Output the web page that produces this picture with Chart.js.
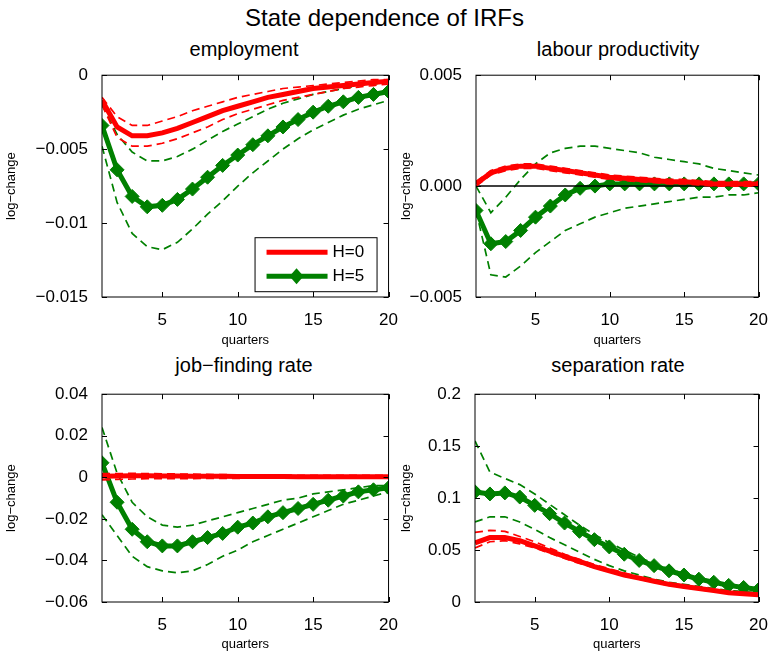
<!DOCTYPE html>
<html>
<head>
<meta charset="utf-8">
<script src="https://cdn.jsdelivr.net/npm/chart.js@4.4.0/dist/chart.umd.min.js"></script>
<style>
  body { margin: 0; background: #fff; width: 769px; height: 663px; position: relative; overflow: hidden;
         font-family: "Liberation Sans", Arial, sans-serif; }
  .ttl { position: absolute; text-align: center; color: #000; }
  canvas { position: absolute; }
</style>
</head>
<body>
<div class="ttl" style="left:0;width:769px;top:4px;font-size:24px;">State dependence of IRFs</div>
<div class="ttl" style="left:102px;width:284px;top:38px;font-size:20px;">employment</div>
<div class="ttl" style="left:476px;width:284px;top:38px;font-size:20px;">labour productivity</div>
<div class="ttl" style="left:102px;width:284px;top:354px;font-size:20px;">job−finding rate</div>
<div class="ttl" style="left:476px;width:284px;top:354px;font-size:20px;">separation rate</div>
<canvas id="empChart" style="left:0;top:59px;width:403px;height:293px;"></canvas>
<canvas id="prodChart" style="left:395px;top:59px;width:378px;height:293px;"></canvas>
<canvas id="jfChart" style="left:0;top:378px;width:403px;height:278px;"></canvas>
<canvas id="sepChart" style="left:395px;top:378px;width:378px;height:278px;"></canvas>
<script>
const quarters = [1,2,3,4,5,6,7,8,9,10,11,12,13,14,15,16,17,18,19,20];

const empH0 = [-0.0017,-0.0035,-0.0041,-0.0041,-0.0039,-0.0036,-0.0032,-0.0028,-0.0024,-0.0021,-0.0018,-0.0015,-0.0013,-0.0011,-0.0009,-0.0008,-0.0007,-0.0006,-0.0005,-0.0004];
const empH0Hi = [-0.0015,-0.0028,-0.0034,-0.0034,-0.0031,-0.0028,-0.0024,-0.0021,-0.0018,-0.0015,-0.0013,-0.0011,-0.0009,-0.0008,-0.0007,-0.0006,-0.0005,-0.0004,-0.0003,-0.0003];
const empH0Lo = [-0.0020,-0.0042,-0.0048,-0.0048,-0.0046,-0.0043,-0.0039,-0.0035,-0.0030,-0.0026,-0.0023,-0.0020,-0.0017,-0.0015,-0.0013,-0.0011,-0.0009,-0.0008,-0.0007,-0.0006];
const empH5 = [-0.0034,-0.0064,-0.0082,-0.0089,-0.0088,-0.0084,-0.0077,-0.0069,-0.0061,-0.0054,-0.0047,-0.0041,-0.0035,-0.0030,-0.0025,-0.0021,-0.0018,-0.0015,-0.0013,-0.0011];
const empH5Hi = [-0.0020,-0.0040,-0.0052,-0.0058,-0.0058,-0.0055,-0.0050,-0.0044,-0.0038,-0.0033,-0.0028,-0.0023,-0.0019,-0.0016,-0.0013,-0.0011,-0.0009,-0.0007,-0.0006,-0.0005];
const empH5Lo = [-0.0048,-0.0086,-0.0107,-0.0116,-0.0118,-0.0113,-0.0104,-0.0094,-0.0085,-0.0075,-0.0066,-0.0058,-0.0050,-0.0043,-0.0037,-0.0032,-0.0027,-0.0023,-0.0020,-0.0017];
const empTicks = [0,-0.005,-0.01,-0.015];

const prodH0 = [0.0001,0.0006,0.0008,0.0009,0.0009,0.0008,0.0007,0.0006,0.0005,0.0004,0.00035,0.0003,0.00025,0.0002,0.0002,0.00015,0.0001,0.0001,0.0001,0.0001];
const prodH0Hi = [0.0002,0.0007,0.0009,0.0010,0.0010,0.0009,0.0008,0.0007,0.0006,0.0005,0.00045,0.0004,0.00035,0.0003,0.0003,0.00025,0.0002,0.0002,0.0002,0.0002];
const prodH0Lo = [0.0000,0.0005,0.0007,0.0008,0.0008,0.0007,0.0006,0.0005,0.0004,0.0003,0.00025,0.0002,0.00015,0.0001,0.0001,0.00005,0.0000,0.0000,0.0000,0.0000];
const prodH5 = [-0.0011,-0.0026,-0.0025,-0.0020,-0.0014,-0.0009,-0.0004,-0.0001,0.0000,0.0001,0.0001,0.0001,0.0001,0.0001,0.0001,0.0001,0.0001,0.0001,0.0001,0.0001];
const prodH5Hi = [0.0000,-0.0012,-0.0005,0.0003,0.0010,0.0015,0.0017,0.0018,0.0018,0.0017,0.0016,0.0015,0.0013,0.0012,0.0011,0.0010,0.0008,0.0007,0.0006,0.0005];
const prodH5Lo = [-0.0011,-0.0040,-0.0041,-0.0036,-0.0030,-0.0025,-0.0020,-0.0017,-0.0014,-0.0012,-0.0010,-0.0009,-0.0008,-0.0007,-0.0006,-0.0005,-0.0005,-0.0004,-0.0004,-0.0003];
const prodTicks = [0.005,0,-0.005];

const jfH0 = [0.0005,0.0006,0.0007,0.0007,0.0006,0.0006,0.0005,0.0005,0.0005,0.0004,0.0004,0.0004,0.0004,0.0003,0.0003,0.0003,0.0003,0.0003,0.0003,0.0003];
const jfH0Hi = [0.0018,0.0018,0.0019,0.0018,0.0017,0.0016,0.0015,0.0014,0.0013,0.0012,0.0012,0.0011,0.0011,0.0010,0.0010,0.0010,0.0010,0.0010,0.0010,0.0010];
const jfH0Lo = [-0.0012,-0.0010,-0.0008,-0.0007,-0.0007,-0.0006,-0.0006,-0.0005,-0.0005,-0.0005,-0.0004,-0.0004,-0.0004,-0.0004,-0.0004,-0.0004,-0.0004,-0.0004,-0.0004,-0.0004];
const jfH5 = [0.007,-0.012,-0.025,-0.031,-0.033,-0.033,-0.031,-0.029,-0.027,-0.024,-0.022,-0.019,-0.017,-0.015,-0.013,-0.011,-0.009,-0.007,-0.006,-0.005];
const jfH5Hi = [0.024,0.002,-0.012,-0.019,-0.023,-0.024,-0.023,-0.021,-0.019,-0.017,-0.015,-0.013,-0.011,-0.010,-0.008,-0.007,-0.006,-0.005,-0.004,-0.004];
const jfH5Lo = [-0.018,-0.028,-0.038,-0.043,-0.045,-0.046,-0.045,-0.042,-0.038,-0.035,-0.031,-0.028,-0.025,-0.022,-0.019,-0.016,-0.013,-0.011,-0.009,-0.007];
const jfTicks = [0.04,0.02,0,-0.02,-0.04,-0.06];

const sepH0 = [0.057,0.062,0.062,0.059,0.054,0.049,0.044,0.039,0.034,0.030,0.026,0.023,0.020,0.017,0.015,0.013,0.011,0.009,0.008,0.007];
const sepH0Hi = [0.067,0.069,0.068,0.063,0.058,0.052,0.046,0.041,0.036,0.032,0.028,0.024,0.021,0.018,0.016,0.014,0.012,0.010,0.009,0.008];
const sepH0Lo = [0.052,0.058,0.059,0.056,0.052,0.047,0.042,0.037,0.033,0.029,0.025,0.022,0.019,0.016,0.014,0.012,0.010,0.009,0.008,0.006];
const sepH5 = [0.106,0.104,0.105,0.101,0.093,0.085,0.076,0.068,0.060,0.053,0.046,0.040,0.035,0.030,0.026,0.022,0.019,0.016,0.014,0.012];
const sepH5Hi = [0.155,0.125,0.119,0.113,0.104,0.094,0.084,0.074,0.065,0.057,0.050,0.043,0.037,0.032,0.027,0.023,0.020,0.017,0.015,0.013];
const sepH5Lo = [0.077,0.082,0.082,0.077,0.070,0.062,0.055,0.048,0.041,0.035,0.030,0.026,0.022,0.019,0.017,0.015,0.013,0.011,0.010,0.009];
const sepTicks = [0,0.05,0.1,0.15,0.2];

const xTicks = [5,10,15,20];
const RED = "#ff0000";
const GREEN = "#008000";
const FONT = "'Liberation Sans', Arial, sans-serif";

function pts(values) {
  return values.map((v, i) => ({ x: quarters[i], y: v }));
}

function dashed(values, color) {
  return { data: pts(values), borderColor: color, borderWidth: 1.7, borderDash: [8, 5], pointRadius: 0, fill: false };
}

function mainLine(values, color, markers) {
  return {
    data: pts(values), borderColor: color, backgroundColor: color, borderWidth: 5,
    pointRadius: markers ? 7 : 0, pointStyle: "rectRot", pointBorderWidth: 1, fill: false
  };
}

const boxPlugin = {
  id: "box",
  afterDatasetsDraw(chart) {
    const { ctx, chartArea: a, scales } = chart;
    ctx.save();
    ctx.strokeStyle = "#000";
    ctx.lineWidth = 1;
    ctx.strokeRect(a.left, a.top, a.right - a.left, a.bottom - a.top);
    const t = 5;
    scales.x.ticks.forEach((tk) => {
      const px = Math.round(scales.x.getPixelForValue(tk.value)) + 0.5;
      ctx.beginPath();
      ctx.moveTo(px, a.bottom); ctx.lineTo(px, a.bottom - t);
      ctx.moveTo(px, a.top); ctx.lineTo(px, a.top + t);
      ctx.stroke();
    });
    scales.y.ticks.forEach((tk) => {
      const py = Math.round(scales.y.getPixelForValue(tk.value)) + 0.5;
      ctx.beginPath();
      ctx.moveTo(a.left, py); ctx.lineTo(a.left + t, py);
      ctx.moveTo(a.right, py); ctx.lineTo(a.right - t, py);
      ctx.stroke();
    });
    ctx.restore();
  }
};

const legendPlugin = {
  id: "irfLegend",
  afterDatasetsDraw(chart) {
    if (!chart.options.plugins.irfLegend.show) return;
    const { ctx, chartArea: a } = chart;
    const x0 = a.right - 134, y0 = a.top + 162, w = 122, h = 54;
    ctx.save();
    ctx.fillStyle = "#fff";
    ctx.fillRect(x0, y0, w, h);
    ctx.strokeStyle = "#000";
    ctx.lineWidth = 1;
    ctx.strokeRect(x0 + 0.5, y0 + 0.5, w, h);
    ctx.lineWidth = 5;
    ctx.strokeStyle = RED;
    ctx.beginPath(); ctx.moveTo(x0 + 12, y0 + 15); ctx.lineTo(x0 + 73, y0 + 15); ctx.stroke();
    ctx.strokeStyle = GREEN;
    ctx.beginPath(); ctx.moveTo(x0 + 12, y0 + 39); ctx.lineTo(x0 + 73, y0 + 39); ctx.stroke();
    ctx.fillStyle = GREEN;
    ctx.beginPath();
    ctx.moveTo(x0 + 42, y0 + 31); ctx.lineTo(x0 + 49, y0 + 39);
    ctx.lineTo(x0 + 42, y0 + 47); ctx.lineTo(x0 + 35, y0 + 39); ctx.closePath(); ctx.fill();
    ctx.fillStyle = "#000";
    ctx.font = "17px " + FONT;
    ctx.textBaseline = "middle";
    ctx.fillText("H=0", x0 + 78, y0 + 15);
    ctx.fillText("H=5", x0 + 78, y0 + 39);
    ctx.restore();
  }
};

function fmt(v, digits) {
  let s = digits === null ? String(Math.round(v * 1e6) / 1e6) : v.toFixed(digits);
  if (Math.abs(v) < 1e-12) s = digits === null ? "0" : (0).toFixed(digits);
  return s.replace("-", "−");
}

function makeChart(id, opts) {
  const ds = [
    dashed(opts.h0Hi, RED), dashed(opts.h0Lo, RED), mainLine(opts.h0, RED, false)
  ];
  if (opts.zeroLine) {
    ds.push({ data: pts(quarters.map(() => 0)), borderColor: "#000", borderWidth: 1.5, pointRadius: 0, fill: false });
  }
  ds.push(dashed(opts.h5Hi, GREEN), dashed(opts.h5Lo, GREEN), mainLine(opts.h5, GREEN, true));

  new Chart(document.getElementById(id), {
    type: "line",
    data: { datasets: ds },
    options: {
      responsive: false,
      animation: false,
      layout: { padding: { top: 9, right: 0, left: 0, bottom: 0 } },
      plugins: { legend: { display: false }, tooltip: { enabled: false }, irfLegend: { show: !!opts.legend } },
      scales: {
        x: {
          type: "linear", min: 1, max: 20,
          afterBuildTicks: (s) => { s.ticks = xTicks.map((v) => ({ value: v })); },
          afterFit: (s) => { s.height = opts.xHeight; },
          grid: { display: false }, border: { display: false },
          ticks: { color: "#000", font: { size: 17, family: FONT }, padding: 5 },
          title: { display: true, text: "quarters", color: "#000", font: { size: 13, family: FONT }, padding: { top: 0 } }
        },
        y: {
          min: opts.min, max: opts.max,
          afterBuildTicks: (s) => { s.ticks = opts.ticks.map((v) => ({ value: v })); },
          afterFit: (s) => { s.width = opts.yWidth; },
          grid: { display: false }, border: { display: false },
          ticks: { color: "#000", font: { size: 17, family: FONT }, padding: 6, callback: (v) => fmt(v, opts.digits) },
          title: { display: true, text: "log−change", color: "#000", font: { size: 13, family: FONT }, padding: { bottom: 0 } }
        }
      }
    },
    plugins: [boxPlugin, legendPlugin]
  });
}

function sizeCanvas(id) {
  const c = document.getElementById(id);
  c.width = parseInt(c.style.width);
  c.height = parseInt(c.style.height);
}
["empChart", "prodChart", "jfChart", "sepChart"].forEach(sizeCanvas);

makeChart("empChart", { h0: empH0, h0Hi: empH0Hi, h0Lo: empH0Lo, h5: empH5, h5Hi: empH5Hi, h5Lo: empH5Lo,
  min: -0.015, max: 0, ticks: empTicks, digits: null, yWidth: 102, xHeight: 55, legend: true });
makeChart("prodChart", { h0: prodH0, h0Hi: prodH0Hi, h0Lo: prodH0Lo, h5: prodH5, h5Hi: prodH5Hi, h5Lo: prodH5Lo,
  min: -0.005, max: 0.005, ticks: prodTicks, digits: 3, yWidth: 81, xHeight: 55, zeroLine: true });
makeChart("jfChart", { h0: jfH0, h0Hi: jfH0Hi, h0Lo: jfH0Lo, h5: jfH5, h5Hi: jfH5Hi, h5Lo: jfH5Lo,
  min: -0.06, max: 0.04, ticks: jfTicks, digits: null, yWidth: 102, xHeight: 54, zeroLine: true });
makeChart("sepChart", { h0: sepH0, h0Hi: sepH0Hi, h0Lo: sepH0Lo, h5: sepH5, h5Hi: sepH5Hi, h5Lo: sepH5Lo,
  min: 0, max: 0.2, ticks: sepTicks, digits: null, yWidth: 80, xHeight: 54 });
</script>
</body>
</html>
